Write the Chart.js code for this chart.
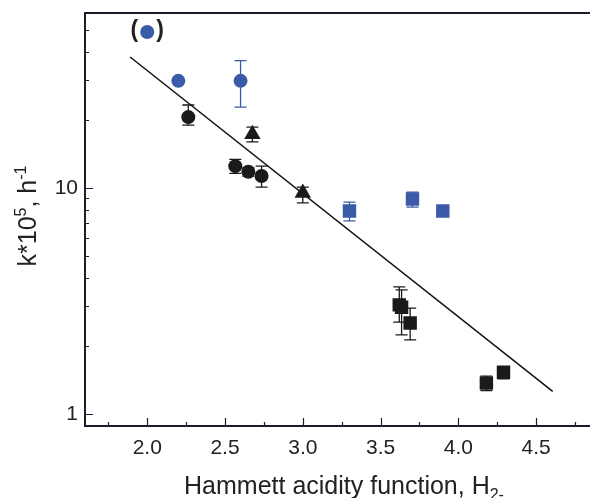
<!DOCTYPE html>
<html>
<head>
<meta charset="utf-8">
<script src="https://cdn.jsdelivr.net/npm/chart.js@4.4.1/dist/chart.umd.min.js"></script>
<style>
  html, body { margin: 0; padding: 0; background: #fff; overflow: hidden; }
</style>
</head>
<body>
<canvas id="chart" width="590" height="498"></canvas>
<script>
// panel marker "(●)"
const markerX = [2.0];
const markerY = [49];

// blue circles
const blueCircleX = [2.2, 2.6];
const blueCircleY = [29.8, 29.8];
const blueCircleLo = [null, 22.8];
const blueCircleHi = [null, 36.6];

// black circles
const blackCircleX = [2.264, 2.566, 2.65, 2.735];
const blackCircleY = [20.6, 12.5, 11.8, 11.3];
const blackCircleLo = [19.0, 11.6, 11.3, 10.1];
const blackCircleHi = [23.3, 13.4, 12.3, 12.5];

// black triangles
const triangleX = [2.676, 3.0];
const triangleY = [17.3, 9.5];
const triangleLo = [16.0, 8.6];
const triangleHi = [18.6, 10.1];

// blue squares
const blueSquareX = [3.3, 3.705, 3.9];
const blueSquareY = [7.91, 8.94, 7.91];
const blueSquareLo = [7.15, 8.24, 7.6];
const blueSquareHi = [8.67, 9.6, 8.2];

// black squares
const blackSquareX = [3.62, 3.635, 3.69, 4.18, 4.29];
const blackSquareY = [3.04, 2.97, 2.53, 1.37, 1.53];
const blackSquareLo = [2.55, 2.24, 2.13, 1.27, 1.43];
const blackSquareHi = [3.65, 3.54, 2.94, 1.47, 1.62];

// fit line
const fitX = [1.89, 4.606];
const fitY = [38.0, 1.26];

// axes
const xTicks = [2.0, 2.5, 3.0, 3.5, 4.0, 4.5];
const xMinorTicks = [1.75, 2.25, 2.75, 3.25, 3.75, 4.25, 4.75];
const yTicks = [1, 10];
const yMinorTicks = [2, 3, 4, 5, 6, 7, 8, 9, 20, 30, 40, 50];

const BLUE = '#3b5aa8';
const BLACK = '#1a1a1a';
const AXIS = '#1c1c2a';
const FONT = '"Liberation Sans", Arial, sans-serif';

function pts(xs, ys) {
  return xs.map((x, i) => ({ x: x, y: ys[i] }));
}

function drawRich(ctx, parts, x, y) {
  // parts: [{t, size, dy}] drawn left to right starting at x, baseline y
  let cx = x;
  parts.forEach(p => {
    ctx.font = p.size + 'px ' + FONT;
    ctx.fillText(p.t, cx, y + (p.dy || 0));
    cx += ctx.measureText(p.t).width;
  });
}

function richWidth(ctx, parts) {
  let w = 0;
  parts.forEach(p => {
    ctx.font = p.size + 'px ' + FONT;
    w += ctx.measureText(p.t).width;
  });
  return w;
}

const decor = {
  id: 'decor',
  beforeDatasetsDraw(chart) {
    const ctx = chart.ctx;
    const xs = chart.scales.x, ys = chart.scales.y;
    ctx.save();
    chart.data.datasets.forEach(ds => {
      if (!ds.errLo) return;
      ctx.strokeStyle = ds.borderColor;
      ctx.lineWidth = 1.3;
      ds.data.forEach((p, i) => {
        if (ds.errLo[i] == null) return;
        const px = xs.getPixelForValue(p.x);
        const lo = ys.getPixelForValue(ds.errLo[i]);
        const hi = ys.getPixelForValue(ds.errHi[i]);
        ctx.beginPath();
        ctx.moveTo(px, lo); ctx.lineTo(px, hi);
        ctx.moveTo(px - 6, lo); ctx.lineTo(px + 6, lo);
        ctx.moveTo(px - 6, hi); ctx.lineTo(px + 6, hi);
        ctx.stroke();
      });
    });
    ctx.restore();
  },
  afterDraw(chart) {
    const ctx = chart.ctx;
    const a = chart.chartArea;
    const xs = chart.scales.x, ys = chart.scales.y;
    ctx.save();

    // axis lines (top and bottom run to the canvas edge)
    ctx.strokeStyle = AXIS;
    ctx.lineWidth = 2;
    ctx.beginPath();
    ctx.moveTo(a.left, a.top); ctx.lineTo(chart.width, a.top);
    ctx.moveTo(a.left, a.top - 1); ctx.lineTo(a.left, a.bottom + 1);
    ctx.moveTo(a.left, a.bottom); ctx.lineTo(chart.width, a.bottom);
    ctx.stroke();

    // inward ticks
    ctx.lineWidth = 1.2;
    ctx.beginPath();
    xTicks.forEach(v => {
      const px = Math.round(xs.getPixelForValue(v)) + 0.5;
      ctx.moveTo(px, a.bottom); ctx.lineTo(px, a.bottom - 8);
    });
    xMinorTicks.forEach(v => {
      const px = Math.round(xs.getPixelForValue(v)) + 0.5;
      ctx.moveTo(px, a.bottom); ctx.lineTo(px, a.bottom - 4);
    });
    yTicks.forEach(v => {
      const py = Math.round(ys.getPixelForValue(v)) + 0.5;
      ctx.moveTo(a.left, py); ctx.lineTo(a.left + 8, py);
    });
    yMinorTicks.forEach(v => {
      const py = Math.round(ys.getPixelForValue(v)) + 0.5;
      ctx.moveTo(a.left, py); ctx.lineTo(a.left + 4, py);
    });
    ctx.stroke();

    // parentheses around the panel marker
    const m = chart.getDatasetMeta(0).data[0];
    ctx.fillStyle = '#222';
    ctx.font = 'bold 23px ' + FONT;
    ctx.textBaseline = 'middle';
    ctx.textAlign = 'right';
    ctx.fillText('(', m.x - 9, m.y - 1);
    ctx.textAlign = 'left';
    ctx.fillText(')', m.x + 9, m.y - 1);

    // axis titles
    ctx.textBaseline = 'alphabetic';
    ctx.textAlign = 'left';
    ctx.fillStyle = '#222';
    const xt = [
      { t: 'Hammett acidity function, H', size: 25 },
      { t: '2-', size: 16, dy: 6 }
    ];
    drawRich(ctx, xt, 344 - richWidth(ctx, xt) / 2, 494);

    const yt = [
      { t: 'k*10', size: 25 },
      { t: '5', size: 16, dy: -10 },
      { t: ', h', size: 25 },
      { t: '-1', size: 16, dy: -10 }
    ];
    ctx.translate(36, 216);
    ctx.rotate(-Math.PI / 2);
    drawRich(ctx, yt, -richWidth(ctx, yt) / 2, 0);
    ctx.restore();
  }
};

new Chart(document.getElementById('chart'), {
  type: 'scatter',
  data: {
    datasets: [
      { data: pts(markerX, markerY), pointStyle: 'circle', pointRadius: 7,
        backgroundColor: BLUE, borderColor: BLUE, borderWidth: 0 },
      { data: pts(blueCircleX, blueCircleY), pointStyle: 'circle', pointRadius: 7,
        backgroundColor: BLUE, borderColor: BLUE, borderWidth: 0,
        errLo: blueCircleLo, errHi: blueCircleHi },
      { data: pts(blackCircleX, blackCircleY), pointStyle: 'circle', pointRadius: 7,
        backgroundColor: BLACK, borderColor: BLACK, borderWidth: 0,
        errLo: blackCircleLo, errHi: blackCircleHi },
      { data: pts(triangleX, triangleY), pointStyle: 'triangle', pointRadius: 9.5,
        backgroundColor: BLACK, borderColor: BLACK, borderWidth: 0,
        errLo: triangleLo, errHi: triangleHi },
      { data: pts(blueSquareX, blueSquareY), pointStyle: 'rect', pointRadius: 9.5,
        backgroundColor: BLUE, borderColor: BLUE, borderWidth: 0,
        errLo: blueSquareLo, errHi: blueSquareHi },
      { data: pts(blackSquareX, blackSquareY), pointStyle: 'rect', pointRadius: 9.5,
        backgroundColor: BLACK, borderColor: BLACK, borderWidth: 0,
        errLo: blackSquareLo, errHi: blackSquareHi },
      { type: 'line', data: pts(fitX, fitY), showLine: true, pointRadius: 0,
        borderColor: '#111', borderWidth: 1.5, fill: false }
    ]
  },
  options: {
    responsive: false,
    animation: false,
    devicePixelRatio: 1,
    layout: { padding: { top: 13, left: 0, right: 0, bottom: 0 } },
    plugins: { legend: { display: false }, tooltip: { enabled: false } },
    scales: {
      x: {
        type: 'linear',
        min: 1.6,
        max: 4.785,
        grid: { display: false, drawTicks: false },
        border: { display: false },
        afterBuildTicks: s => { s.ticks = xTicks.map(v => ({ value: v })); },
        afterFit: s => { s.height = 72; s.paddingLeft = 0; s.paddingRight = 0; },
        ticks: {
          autoSkip: false,
          maxRotation: 0,
          padding: 10,
          color: '#222',
          font: { family: FONT, size: 21 },
          callback: v => Number(v).toFixed(1)
        }
      },
      y: {
        type: 'logarithmic',
        min: 0.885,
        max: 59.5,
        grid: { display: false, drawTicks: false },
        border: { display: false },
        afterBuildTicks: s => { s.ticks = yTicks.map(v => ({ value: v })); },
        afterFit: s => { s.width = 85; s.paddingTop = 0; s.paddingBottom = 0; },
        ticks: {
          autoSkip: false,
          padding: 7,
          color: '#222',
          font: { family: FONT, size: 21 },
          callback: v => String(v)
        }
      }
    }
  },
  plugins: [decor]
});
</script>
</body>
</html>
